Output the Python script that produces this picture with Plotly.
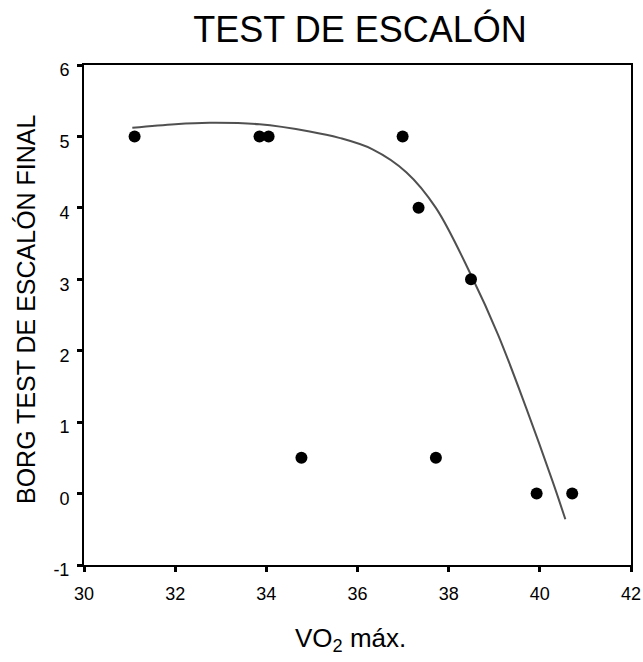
import plotly.graph_objects as go

vo2 = [31.11, 33.85, 34.05, 34.77, 36.99, 37.34, 37.72, 38.49, 39.93, 40.71]
borg = [5, 5, 5, 0.5, 5, 4, 0.5, 3, 0, 0]

fit_x = [31.06, 32.0, 32.75, 33.85, 34.95, 35.60, 36.33, 37.07, 37.72, 38.49, 39.08, 39.70, 40.28, 40.56]
fit_y = [5.12, 5.17, 5.19, 5.17, 5.07, 4.98, 4.82, 4.50, 4.00, 3.06, 2.23, 1.20, 0.17, -0.36]

x_ticks = [30, 32, 34, 36, 38, 40, 42]
y_ticks = [-1, 0, 1, 2, 3, 4, 5, 6]

fig = go.Figure()
fig.add_trace(go.Scatter(x=fit_x, y=fit_y, mode="lines",
                         line=dict(color="#505050", width=2, shape="spline", smoothing=1.0),
                         hoverinfo="skip", showlegend=False))
fig.add_trace(go.Scatter(x=vo2, y=borg, mode="markers",
                         marker=dict(color="black", size=12),
                         showlegend=False))

font_family = "Liberation Sans, Arial, sans-serif"
fig.update_layout(
    width=643, height=662,
    margin=dict(l=84, r=12, t=65, b=97),
    paper_bgcolor="white", plot_bgcolor="white",
    font=dict(family=font_family, color="black"),
    title=dict(text="TEST DE ESCALÓN", x=0.56, xanchor="center", y=0.955, yanchor="middle",
               font=dict(size=36, family=font_family, color="black")),
    xaxis=dict(range=[30, 42], tickvals=x_ticks, ticktext=[str(v) for v in x_ticks],
               showgrid=False, zeroline=False, showline=True, linecolor="black", linewidth=2,
               mirror=True, ticks="outside", ticklen=5, tickwidth=3, tickcolor="black",
               tickfont=dict(size=18), ticklabelstandoff=6, automargin=False),
    yaxis=dict(range=[-1, 6], tickvals=y_ticks, ticktext=[str(v) for v in y_ticks],
               showgrid=False, zeroline=False, showline=True, linecolor="black", linewidth=2,
               mirror=True, ticks="outside", ticklen=5, tickwidth=3, tickcolor="black",
               tickfont=dict(size=18), ticklabelstandoff=4, ticklabelshift=5, automargin=False),
    annotations=[
        dict(text="VO<sub>2</sub> máx.", xref="paper", yref="paper", x=0.488, y=0,
             xanchor="center", yanchor="middle", yshift=-74, showarrow=False,
             font=dict(size=26, family=font_family, color="black")),
        dict(text="BORG TEST DE ESCALÓN FINAL", xref="paper", yref="paper", x=0, y=0.512,
             xanchor="center", yanchor="middle", xshift=-58, textangle=-90, showarrow=False,
             font=dict(size=25, family=font_family, color="black")),
    ],
)

fig.write_html("out.html", config={"displayModeBar": False},
               post_script="document.body.style.margin='0';document.body.style.overflow='hidden';")
